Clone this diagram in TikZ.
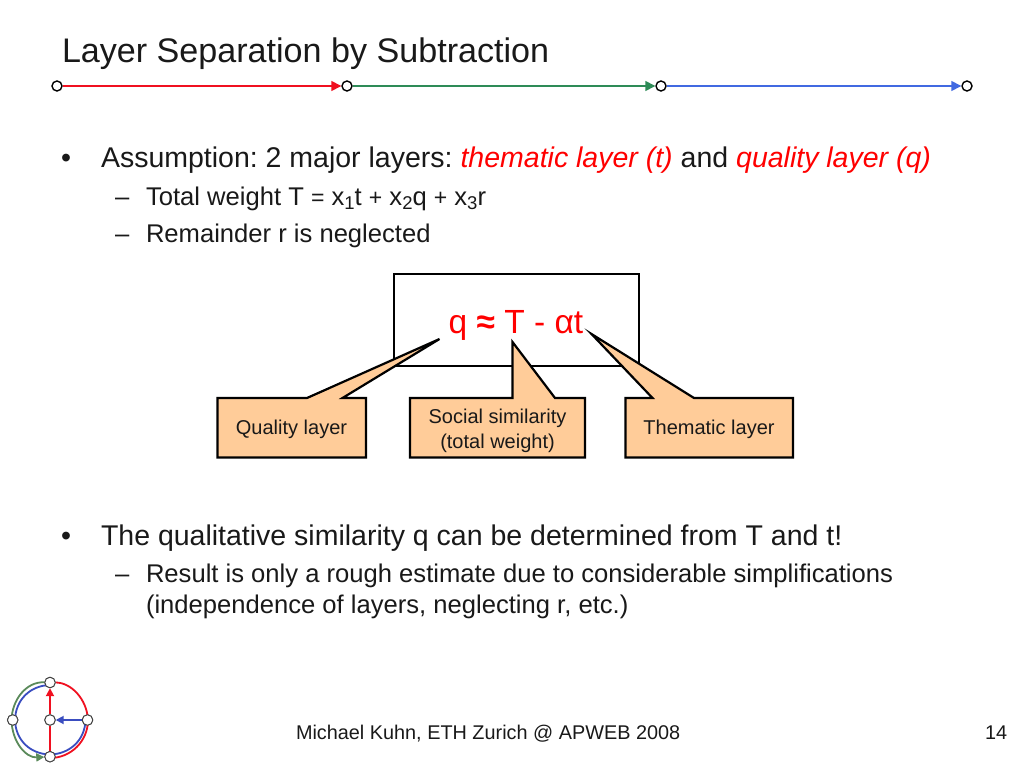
\documentclass[tikz,border=0pt]{standalone}
\usepackage{fontspec}
\setmainfont{Liberation Sans}
\usetikzlibrary{arrows.meta}
\definecolor{calloutfill}{HTML}{FFCC99}
\definecolor{lred}{HTML}{F01020}
\definecolor{lgreen}{HTML}{2E8B57}
\definecolor{lblue}{HTML}{4169E1}
\definecolor{lgreenb}{HTML}{5A8A5A}
\definecolor{lblueb}{HTML}{3A4DC0}
\newcommand{\fs}[1]{\fontsize{#1pt}{#1pt}\selectfont}
\newcommand{\subs}[1]{\raisebox{-4pt}{\fs{18.5}#1}}
\frenchspacing
\tikzset{
  txt/.style={anchor=base west,inner sep=0pt,outer sep=0pt,text=black!90},
  titletxt/.style={txt,font=\fs{34.1}},
  lvlone/.style={txt,font=\fs{28.5}},
  lvltwo/.style={txt,font=\fs{25.6}},
  foot/.style={txt,font=\fs{19.85}},
  callout/.style={draw=black,line width=2.2pt,fill=calloutfill,line join=miter,miter limit=10},
  calltxt/.style={inner sep=0pt,align=center,font=\fs{20},text=black!90},
  dot/.style={circle,draw=black,fill=white,line width=1.4pt,minimum size=10pt,inner sep=0pt},
  bigdot/.style={circle,draw=black!75,fill=white,line width=0.9pt,minimum size=10.5pt,inner sep=0pt},
  tipp/.style={-{Triangle[length=10pt,width=10pt]}},
  smalltip/.style={-{Triangle[length=8pt,width=8pt]}}
}
\begin{document}
\begin{tikzpicture}[x=1pt,y=-1pt]
\useasboundingbox (0,0) rectangle (1024,768);
\fill[white] (0,0) rectangle (1024,768);

% title
\node[titletxt] (title) at (62,63) {Layer Separation by Subtraction};

% top line
\node[dot] (n1) at (57,86) {};
\node[dot] (n2) at (347,86) {};
\node[dot] (n3) at (661,86) {};
\node[dot] (n4) at (967,86) {};
\draw[lred,line width=1.4pt,tipp] (n1) -- (n2);
\draw[lgreen,line width=1.4pt,tipp] (n2) -- (n3);
\draw[lblue,line width=1.4pt,tipp] (n3) -- (n4);

% bullets
\node[lvlone] (b1) at (61,167.5) {•};
\node[lvlone] (t1) at (101,167.5) {Assumption: 2 major layers: \textcolor{red}{\itshape thematic layer (t)} and \textcolor{red}{\itshape quality layer (q)}};
\node[lvltwo] (d1) at (115,205) {–};
\node[lvltwo] (t2) at (146,205) {Total weight T {\fs{23}=} x\subs{1}t {\fs{23}+} x\subs{2}q {\fs{23}+} x\subs{3}r};
\node[lvltwo] (d2) at (115,242) {–};
\node[lvltwo] (t3) at (146,242) {Remainder r is neglected};

% formula box
\node[draw=black,line width=2.2pt,minimum width=245pt,minimum height=92pt,inner sep=0pt] (formula) at (516.5,320) {};
\node[inner sep=0pt,anchor=base,font=\fs{33.5},text=red] (ftext) at (516,333) {q \textbf{≈} T - αt};

% callouts
\coordinate (tipq) at (439.5,339);
\coordinate (tips) at (512.5,342);
\coordinate (tipt) at (591.5,334);
\draw[callout] (217.5,398) -- (307,398) -- (tipq) -- (342.5,398) -- (366,398) -- (366,457.5) -- (217.5,457.5) -- cycle;
\draw[callout] (410,398) -- (512.5,398) -- (tips) -- (555,398) -- (585,398) -- (585,457.5) -- (410,457.5) -- cycle;
\draw[callout] (625.5,398) -- (652.5,398) -- (tipt) -- (694,398) -- (793,398) -- (793,457.5) -- (625.5,457.5) -- cycle;
\node[calltxt] (cq) at (291.5,429) {Quality layer};
\node[calltxt,font=\fontsize{20pt}{25pt}\selectfont] (cs) at (497.5,431) {Social similarity\\(total weight)};
\node[calltxt] (ct) at (709,429) {Thematic layer};

% lower bullets
\node[lvlone] (b2) at (61,545.5) {•};
\node[lvlone] (t4) at (101,545.5) {The qualitative similarity q can be determined from T and t!};
\node[lvltwo] (d3) at (115,582) {–};
\node[lvltwo] (t5) at (146,582) {Result is only a rough estimate due to considerable simplifications};
\node[lvltwo] (t6) at (146,613) {(independence of layers, neglecting r, etc.)};

% footer
\node[foot] (f1) at (296,739) {Michael Kuhn, ETH Zurich @ APWEB 2008};
\node[foot] (f2) at (985,739) {14};

% logo
\node[bigdot] (ltop) at (50,682.5) {};
\node[bigdot] (lleft) at (12.7,720) {};
\node[bigdot] (lright) at (87.5,720) {};
\node[bigdot] (lbot) at (50,756.7) {};
\node[bigdot] (lmid) at (50,720) {};
\draw[lred,line width=1.8pt] (ltop) .. controls (71,682.5) and (87,699) .. (88,720) .. controls (88,741) and (71,758) .. (50,758);
\draw[lgreenb,line width=1.8pt,smalltip] (ltop) .. controls (26,681.5) and (12,700) .. (11.5,720) .. controls (12,742) and (26,758) .. (lbot);
\draw[lblueb,line width=1.8pt] (85.5,720) .. controls (85,740) and (70,754) .. (50,754.5) .. controls (30,754) and (15.5,740) .. (15,720) .. controls (15.5,700) and (30,685.5) .. (50,685);
\draw[lred,line width=1.8pt] (lbot) -- (lmid);
\draw[lred,line width=1.8pt,smalltip] (lmid) -- (ltop);
\draw[lblueb,line width=1.8pt,smalltip] (lright) -- (lmid);
\node[bigdot] at (ltop) {};
\node[bigdot] at (lleft) {};
\node[bigdot] at (lright) {};
\node[bigdot] at (lbot) {};
\node[bigdot] at (lmid) {};
\end{tikzpicture}
\end{document}
